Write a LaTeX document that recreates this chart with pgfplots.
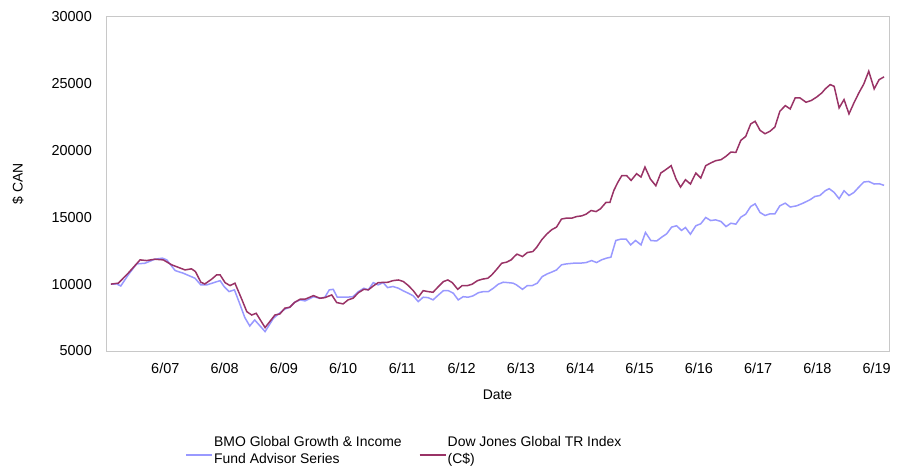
\documentclass[border=0pt]{standalone}
\usepackage{fontspec}
\setmainfont{Liberation Sans}
\usepackage{pgfplots}
\pgfplotsset{compat=1.18}
\definecolor{fundblue}{RGB}{153,153,255}
\definecolor{idxred}{RGB}{153,51,102}
\definecolor{framegray}{RGB}{200,200,200}
\begin{document}
\begin{tikzpicture}
\useasboundingbox (0,0) rectangle (907bp,467bp);
\begin{axis}[
  at={(106bp,116bp)}, anchor=south west,
  scale only axis, width=783bp, height=334.5bp,
  xmin=0, xmax=158.5, ymin=5000, ymax=30000,
  xtick={12,24,36,48,60,72,84,96,108,120,132,144,156},
  xticklabels={6/07,6/08,6/09,6/10,6/11,6/12,6/13,6/14,6/15,6/16,6/17,6/18,6/19},
  ytick={5000,10000,15000,20000,25000,30000},
  scaled y ticks=false,
  /pgf/number format/assume math mode=true,
  /pgf/number format/set thousands separator={},
  major tick length=0pt,
  axis line style={framegray, line width=1bp},
  font=\fontsize{14}{16.8}\selectfont,
  ticklabel style={font=\fontsize{14.5}{17}\selectfont, inner sep=0pt},
  yticklabel style={anchor=east, xshift=-14bp},
  xticklabel style={anchor=center, yshift=-17bp},
  xlabel={Date},
  ylabel={\$ CAN},
  xlabel style={at={(axis description cs:0.5,-0.1315)}, anchor=center, inner sep=0pt},
  ylabel style={at={(axis description cs:-0.1124,0.5)}, anchor=center, inner sep=0pt},
  legend columns=2,
  legend cell align=left,
  legend style={draw=none, fill=none, at={(axis description cs:0.097,-0.245)}, anchor=north west,
    font=\fontsize{14}{17}\selectfont, nodes={align=left, inner sep=1bp},
    /tikz/every even column/.append style={column sep=16bp}},
  legend image code/.code={\draw[#1, line width=2bp] (0bp,-4.5bp) -- (26bp,-4.5bp);},
]
\addplot[fundblue, line width=1.5bp] coordinates {
(1,10000)(2.2,10010)(3.0,9860)(4.5,10690)(6.2,11510)(7.9,11560)(9.9,11860)(11.4,11940)(12.3,11810)(14.0,11010)(15.6,10820)(18.0,10440)(19.2,9940)(20.4,9940)(23.1,10260)(23.9,9820)(24.9,9440)(26.0,9570)(27.1,8500)(28.1,7500)(29.1,6870)(30.1,7320)(32.2,6450)(33.9,7450)(35.1,7820)(36.2,8130)(37.2,8270)(38.2,8640)(39.3,8820)(40.3,8740)(42.0,9060)(43.3,8940)(44.3,9020)(45.2,9570)(46.0,9610)(46.8,9020)(48.7,9020)(50.0,9060)(51.1,9440)(52.2,9690)(53.1,9570)(54.1,10110)(55.1,9940)(56.1,10110)(57.0,9740)(58.1,9820)(59.2,9690)(60.2,9490)(61.2,9320)(62.2,9120)(63.2,8690)(64.2,9020)(65.2,8990)(66.2,8820)(67.3,9190)(68.3,9510)(69.3,9510)(70.3,9320)(71.3,8820)(72.3,9060)(73.3,9020)(74.3,9120)(75.4,9360)(76.4,9440)(77.4,9440)(78.4,9690)(79.4,9990)(80.4,10140)(81.4,10110)(82.4,10070)(83.1,9940)(84.3,9610)(85.3,9890)(86.3,9890)(87.3,10070)(88.3,10560)(89.3,10760)(90.3,10910)(91.2,11060)(92.2,11440)(93.2,11510)(94.6,11560)(95.9,11560)(97.2,11610)(98.3,11760)(99.3,11610)(100.3,11810)(101.3,11940)(102.2,12010)(103.2,13260)(104.2,13360)(105.3,13360)(106.2,12930)(107.2,13260)(108.3,12930)(109.2,13860)(110.3,13250)(111.5,13230)(112.5,13510)(113.5,13760)(114.5,14260)(115.5,14360)(116.5,14010)(117.3,14230)(118.3,13730)(119.4,14360)(120.4,14510)(121.4,14980)(122.4,14750)(123.4,14800)(124.5,14680)(125.5,14300)(126.5,14550)(127.5,14480)(128.5,15000)(129.5,15230)(130.5,15800)(131.4,16000)(132.4,15350)(133.4,15130)(134.4,15250)(135.4,15250)(136.4,15850)(137.5,16050)(138.5,15760)(139.8,15850)(141.1,16050)(142.5,16300)(143.5,16550)(144.5,16620)(145.6,16980)(146.4,17130)(147.4,16850)(148.4,16380)(149.4,16980)(150.4,16620)(151.4,16850)(152.4,17250)(153.4,17630)(154.4,17670)(155.5,17480)(156.5,17500)(157.5,17380)
};
\addlegendentry{BMO Global Growth \& Income\\Fund Advisor Series}
\addplot[idxred, line width=1.5bp] coordinates {
(1,10000)(2.5,10070)(4.5,10820)(6.9,11810)(8.2,11760)(9.9,11860)(11.6,11810)(13.3,11440)(16.0,11060)(17.3,11140)(18.1,10940)(19.2,10140)(20.0,10010)(21.4,10370)(22.4,10690)(23.1,10690)(24.1,10110)(25.1,9890)(26.1,10070)(27.5,8850)(28.5,7940)(29.5,7690)(30.4,7820)(32.2,6750)(34.2,7690)(35.2,7770)(36.2,8200)(37.2,8270)(38.2,8640)(39.3,8870)(40.3,8870)(42.0,9140)(43.3,8940)(44.3,8990)(45.7,9190)(46.7,8620)(48.0,8520)(49.0,8820)(50.0,8940)(51.1,9360)(52.2,9610)(53.1,9570)(54.1,9860)(55.1,10110)(57.1,10140)(58.1,10260)(59.2,10310)(60.2,10190)(61.2,9890)(62.2,9510)(63.2,9020)(64.2,9510)(65.2,9440)(66.2,9390)(67.3,9820)(68.3,10190)(69.2,10310)(70.1,10110)(71.2,9610)(72.1,9890)(73.2,9890)(74.1,9990)(75.2,10260)(76.2,10370)(77.3,10440)(78.1,10690)(79.1,11110)(80.1,11560)(81.1,11640)(82.0,11810)(82.8,12110)(83.2,12240)(84.3,12060)(85.3,12360)(86.4,12430)(87.2,12760)(88.2,13310)(89.2,13730)(90.2,14060)(91.2,14260)(92.2,14860)(93.2,14930)(94.3,14930)(95.3,15050)(96.3,15100)(97.2,15230)(98.2,15500)(99.2,15420)(100.1,15630)(101.2,16100)(102.0,16100)(102.8,17000)(103.6,17600)(104.4,18100)(105.4,18100)(106.3,17750)(107.4,18250)(108.3,18000)(109.1,18750)(110.2,17850)(111.3,17350)(112.3,18300)(113.3,18550)(114.4,18850)(115.4,17850)(116.3,17250)(117.3,17800)(118.3,17480)(119.4,18300)(120.4,17930)(121.4,18850)(122.4,19050)(123.4,19220)(124.5,19300)(125.5,19550)(126.5,19870)(127.5,19840)(128.5,20740)(129.5,21040)(130.5,21970)(131.4,22170)(132.4,21490)(133.4,21240)(134.4,21420)(135.4,21740)(136.4,22910)(137.5,23340)(138.5,23090)(139.5,23910)(140.5,23910)(141.7,23590)(142.8,23730)(143.9,23990)(144.9,24290)(145.6,24590)(146.6,24910)(147.4,24780)(148.4,23170)(149.4,23790)(150.4,22720)(151.4,23540)(152.4,24290)(153.4,24960)(154.4,25910)(155.5,24590)(156.5,25280)(157.5,25490)
};
\addlegendentry{Dow Jones Global TR Index\\(C\$)}
\end{axis}
\end{tikzpicture}
\end{document}
